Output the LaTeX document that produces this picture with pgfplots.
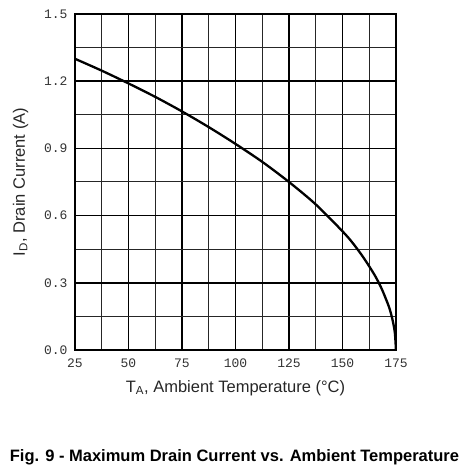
\documentclass[border=0pt]{standalone}
\usepackage{pgfplots}
\pgfplotsset{compat=1.18}
\usepackage{fontspec}
\setmainfont{Liberation Sans}
\newfontfamily\tickfont{Liberation Mono}

\begin{document}
\begin{tikzpicture}
\begin{axis}[
    name=ax,
    at={(0,0)}, anchor=south west,
    scale only axis,
    width=321pt, height=336pt,
    xmin=25, xmax=175, ymin=0, ymax=1.5,
    xtick={25,50,...,175},
    ytick={0,0.3,...,1.5},
    minor x tick num=1,
    minor y tick num=1,
    grid=both,
    major grid style={black, line width=1.7pt},
    minor grid style={black!85, line width=1pt},
    axis line style={black, line width=2pt},
    major tick length=0pt, minor tick length=0pt,
    tick label style={font=\tickfont\fontsize{13}{13}\selectfont, text=black!80},
    /pgf/number format/assume math mode=true,
    yticklabel style={/pgf/number format/fixed, /pgf/number format/fixed zerofill, /pgf/number format/precision=1, xshift=-4pt},
    xticklabel style={yshift=-5pt},
    xlabel={T\textsubscript{A}, Ambient Temperature (°C)},
    ylabel={I\textsubscript{D}, Drain Current (A)},
    label style={font=\fontsize{16.5}{16.5}\selectfont, text=black!85},
    xlabel style={yshift=-6pt},
    ylabel style={yshift=9pt},
]
\addplot[black, line width=2.3pt, smooth] coordinates {
    (25, 1.30) (37.5, 1.247) (50, 1.19) (62.5, 1.13) (75, 1.065)
    (87.5, 0.995) (100, 0.92) (112.5, 0.84) (125, 0.75) (137.5, 0.65)
    (150, 0.53) (155, 0.475) (160, 0.41) (165, 0.335) (168, 0.28)
    (170, 0.235) (172, 0.185) (173.5, 0.13) (174.5, 0.075) (175, 0.0)
};
\end{axis}
\path (ax.south west) ++(-75pt,-118pt) rectangle ++(466pt,468pt);
\node[font=\bfseries\fontsize{16.5}{16.5}\selectfont, anchor=center]
    at ([xshift=159.5pt, yshift=-107pt]ax.south west)
    {Fig. 9 - Maximum Drain Current vs. Ambient Temperature};
\end{tikzpicture}
\end{document}
